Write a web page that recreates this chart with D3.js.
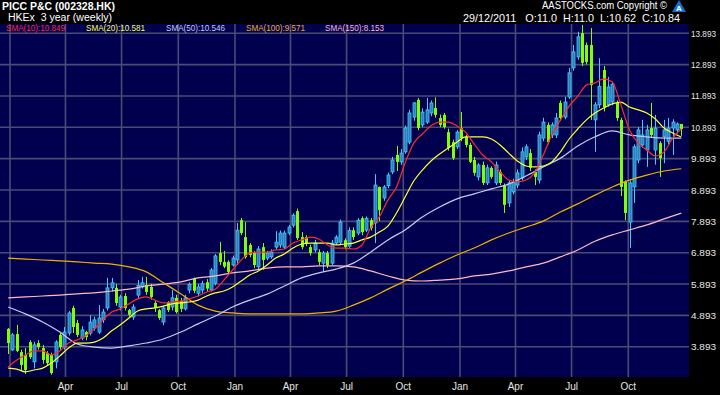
<!DOCTYPE html>
<html>
<head>
<meta charset="utf-8">
<script src="https://cdn.jsdelivr.net/npm/d3@7"></script>
<style>
  body { margin: 0; background: #000; }
  svg { display: block; font-family: "Liberation Sans", Arial, sans-serif; }
</style>
</head>
<body>
<svg id="chart"></svg>
<script>
// weekly candles, 29 Dec 2008 .. 26 Dec 2011 (Monday of each week)
const weeks = d3.timeMonday.range(new Date(2008, 11, 29), new Date(2011, 11, 27));

const opens = [4.46,3.79,4.30,3.72,3.63,4.04,3.41,4.01,3.85,3.69,3.63,3.41,4.27,3.88,4.33,5.13,4.65,4.17,4.36,4.33,
  4.49,4.36,4.75,5.13,5.77,5.77,5.16,5.51,5.06,4.84,5.54,5.80,5.86,5.80,5.29,5.06,4.68,5.29,5.16,5.45,
  5.35,5.10,5.70,6.06,5.60,5.70,5.95,5.70,5.92,6.88,6.60,6.60,6.50,6.66,7.93,7.39,7.14,6.88,6.44,7.07,
  6.72,6.76,7.07,7.14,7.07,7.52,7.77,8.22,7.39,7.39,7.07,6.98,6.91,6.56,6.88,6.56,7.20,7.23,7.29,7.10,
  7.61,7.52,7.99,7.61,7.93,7.84,8.99,8.64,9.03,9.47,10.01,9.79,10.11,10.42,11.22,11.77,10.97,11.06,11.35,11.51,
  11.19,11.29,10.74,10.42,10.27,10.87,10.58,10.33,9.85,9.31,9.69,9.12,9.60,9.12,9.47,9.05,8.48,8.83,9.05,9.28,
  9.95,10.07,9.47,9.21,10.55,10.97,10.65,10.65,11.67,11.22,11.86,12.79,13.14,13.90,13.52,13.52,11.13,11.61,12.72,11.61,
  11.70,11.67,11.13,9.15,7.87,8.99,9.85,10.33,10.17,10.87,10.17,10.39,10.59,10.45,10.87,10.81,11.0];
const highs = [4.49,4.33,4.59,3.80,3.85,4.10,4.05,4.10,3.95,3.75,3.70,4.10,4.35,4.52,5.03,5.20,4.75,4.55,4.40,4.90,
  4.85,5.22,5.10,6.09,6.09,5.90,5.55,5.60,5.10,5.25,6.02,6.12,6.12,5.90,5.35,5.10,5.20,5.35,5.70,5.55,
  5.45,5.55,5.95,6.10,5.90,6.00,6.05,6.40,6.85,7.23,6.95,6.65,6.80,7.84,8.00,7.87,7.20,6.95,7.10,7.20,
  6.95,7.00,7.58,7.60,7.60,7.78,8.15,8.30,7.55,7.45,7.15,7.30,7.00,6.95,6.95,7.30,7.45,7.95,7.35,7.70,
  7.70,8.00,8.05,8.05,8.00,9.40,9.00,9.05,9.45,9.95,10.30,10.20,10.95,11.45,11.70,11.83,11.50,11.83,11.75,11.85,
  11.30,11.35,10.85,10.50,10.80,11.38,10.65,10.40,9.95,9.75,9.80,9.70,9.65,9.80,9.55,9.10,9.20,9.25,9.55,10.25,
  10.35,10.20,9.55,10.75,11.20,11.05,11.05,11.35,11.75,11.87,12.79,13.52,13.94,14.16,13.60,14.06,11.70,13.10,12.85,12.50,
  12.35,11.75,11.20,9.20,9.20,10.35,10.90,11.13,10.97,11.67,11.29,10.45,11.13,11.19,11.15,11.05,11.0];
const lows = [3.66,3.76,3.72,3.15,3.02,3.50,3.20,3.80,3.35,3.30,3.00,3.20,3.80,3.80,4.25,4.33,4.20,4.10,4.10,4.25,
  4.40,4.30,4.65,5.05,5.65,5.20,5.05,5.05,4.85,4.75,5.45,5.75,5.55,5.40,5.00,4.75,4.58,5.00,5.05,4.95,
  5.00,5.05,5.60,5.60,5.50,5.60,5.65,5.65,5.85,6.50,6.40,6.20,6.45,6.50,7.45,6.70,6.75,6.40,6.35,6.35,
  6.65,6.70,7.00,7.05,7.00,7.45,7.70,7.30,7.00,7.10,6.80,6.90,6.50,6.28,6.40,6.50,7.15,7.15,7.00,7.05,
  7.30,7.45,7.45,7.55,7.60,7.20,7.90,8.55,8.95,9.40,9.50,9.70,10.05,10.35,11.10,10.80,10.90,11.00,11.25,11.20,
  10.90,10.85,10.15,9.85,10.20,10.45,10.25,9.75,9.35,9.20,9.05,9.05,9.25,9.05,9.05,8.16,8.35,8.75,8.95,9.20,
  9.85,9.50,9.05,9.10,10.45,10.35,10.55,10.55,11.10,11.15,11.80,12.70,13.05,12.85,12.90,11.13,10.11,11.50,11.40,11.55,
  11.60,11.10,8.70,7.93,7.04,8.48,9.75,10.25,9.63,10.55,9.70,9.31,9.75,10.35,10.01,10.70,10.62];
const closes = [4.01,4.27,3.76,3.31,3.15,3.56,3.95,3.88,3.47,3.37,3.05,4.04,3.88,4.36,4.97,4.52,4.27,4.43,4.20,4.68,
  4.75,4.81,5.00,5.77,5.93,5.29,5.48,5.13,4.91,5.16,5.85,5.93,5.64,5.48,5.13,4.81,5.13,5.06,5.45,5.00,
  5.10,5.45,5.88,5.68,5.80,5.90,5.75,6.34,6.79,6.60,6.45,6.28,6.72,7.61,7.52,6.75,6.82,6.50,7.01,6.66,
  6.88,6.91,7.23,7.52,7.52,7.71,8.09,7.36,7.07,7.20,6.88,7.20,6.60,6.88,6.50,7.20,7.39,7.87,7.07,7.60,
  7.39,7.93,7.55,7.99,7.68,9.05,8.25,8.99,9.37,9.85,9.79,10.07,10.87,11.35,11.67,10.87,11.38,11.45,11.67,11.29,
  10.97,10.90,10.24,9.91,10.74,10.55,10.33,9.79,9.44,9.69,9.12,9.60,9.31,9.69,9.12,8.42,9.12,9.15,9.44,10.11,
  10.27,9.60,9.31,10.65,11.06,10.42,10.97,11.19,11.19,11.70,12.63,13.30,13.78,12.95,12.98,12.24,11.61,12.20,11.54,12.18,
  12.27,11.19,8.99,8.16,9.12,10.27,10.81,10.65,10.81,10.65,10.87,9.91,10.81,10.87,11.06,11.00,10.84];

// moving averages: SMA10/20 every 2nd week, SMA50/100/150 every 4th week
const sma10 = [3.25,3.47,3.63,3.76,3.76,3.63,3.76,4.01,4.11,4.24,4.46,4.75,5.00,5.10,5.26,5.42,5.48,5.38,5.29,5.32,
  5.35,5.42,5.51,5.64,5.73,6.02,6.34,6.66,6.88,6.91,6.91,6.98,7.01,7.20,7.30,7.39,7.33,7.14,7.04,7.04,
  7.01,7.14,7.68,8.03,8.57,8.99,9.76,10.39,10.68,10.94,11.06,11.06,10.94,10.74,10.36,10.01,9.79,9.47,9.21,9.15,
  9.21,9.44,10.01,10.65,11.13,11.57,11.89,12.24,12.31,12.44,12.34,11.61,10.81,10.39,10.17,9.98,10.11,10.55,10.849];
const sma20 = [3.21,3.18,3.09,3.15,3.21,3.37,3.60,3.85,4.01,4.01,4.04,4.17,4.40,4.59,4.81,5.03,5.10,5.13,5.19,5.26,
  5.29,5.32,5.38,5.51,5.61,5.67,5.80,5.99,6.18,6.31,6.50,6.72,6.85,7.04,7.17,7.20,7.20,7.20,7.14,7.17,
  7.20,7.30,7.39,7.55,7.74,8.16,8.67,9.18,9.53,9.82,10.04,10.23,10.42,10.59,10.59,10.59,10.52,10.33,10.07,9.82,
  9.66,9.63,9.66,9.79,10.11,10.52,10.84,11.13,11.35,11.51,11.64,11.70,11.54,11.45,11.35,11.16,10.87,10.71,10.581];
const sma50 = [5.16,4.94,4.68,4.36,3.98,3.88,3.85,3.92,4.01,4.14,4.36,4.62,4.87,5.16,5.38,5.57,5.83,6.09,6.25,6.37,
  6.56,6.91,7.30,7.62,8.03,8.35,8.61,8.77,8.93,9.08,9.34,9.63,9.91,10.30,10.59,10.78,10.65,10.59,10.55,10.546];
const sma100 = [6.72,6.69,6.66,6.63,6.60,6.56,6.53,6.44,6.28,5.93,5.58,5.22,5.03,4.97,4.94,4.94,4.94,4.94,4.97,5.03,
  5.22,5.45,5.73,5.99,6.28,6.56,6.82,7.04,7.30,7.52,7.71,7.90,8.19,8.45,8.73,8.99,9.21,9.37,9.50,9.571];
const sma150 = [5.45,5.48,5.51,5.54,5.58,5.61,5.67,5.73,5.83,5.89,5.96,6.09,6.15,6.25,6.31,6.40,6.44,6.44,6.47,6.47,
  6.44,6.31,6.15,6.02,5.99,6.02,6.06,6.15,6.21,6.31,6.44,6.56,6.76,6.98,7.26,7.46,7.62,7.78,7.97,8.153];

const priceTicks = [3.893,4.893,5.893,6.893,7.893,8.893,9.893,10.893,11.893,12.893,13.893];
const monthNames = {0: "Jan", 3: "Apr", 6: "Jul", 9: "Oct"};

const legend = [
  { text: "SMA(10):10.849", color: "#ff2a2a", data: sma10, step: 2 },
  { text: "SMA(20):10.581", color: "#ffff33", data: sma20, step: 2 },
  { text: "SMA(50):10.546", color: "#c8c8f0", data: sma50, step: 4 },
  { text: "SMA(100):9.571", color: "#f0b000", data: sma100, step: 4 },
  { text: "SMA(150):8.153", color: "#ffb8c4", data: sma150, step: 4 }
];

const width = 720, height = 395;
const plot = { left: 0, top: 24, right: 689, bottom: 377 };

const svg = d3.select("#chart").attr("width", width).attr("height", height);
svg.append("rect").attr("width", width).attr("height", height).attr("fill", "#000");

// plot background
svg.append("rect")
  .attr("x", plot.left).attr("y", plot.top)
  .attr("width", plot.right - plot.left).attr("height", plot.bottom - plot.top)
  .attr("fill", "#00004e");

svg.append("clipPath").attr("id", "clip")
  .append("rect")
  .attr("x", plot.left).attr("y", plot.top)
  .attr("width", plot.right - plot.left).attr("height", plot.bottom - plot.top);

// scales
const xScale = d3.scaleTime()
  .domain([new Date(2009, 0, 1), new Date(2012, 0, 1)])
  .range([10, 685]);
const yScale = d3.scaleLinear()
  .domain([3.893, 13.893])
  .range([346.7, 33.3]);

const quarterTicks = d3.timeMonth.every(3).range(new Date(2009, 0, 1), new Date(2011, 11, 31));

// grid
const grid = svg.append("g").attr("clip-path", "url(#clip)");
grid.selectAll(".hgrid").data(priceTicks).enter().append("line")
  .attr("x1", plot.left).attr("x2", plot.right)
  .attr("y1", d => yScale(d)).attr("y2", d => yScale(d))
  .attr("stroke", "#4a4a74").attr("stroke-width", 1.6);
grid.selectAll(".vgrid").data(quarterTicks).enter().append("line")
  .attr("x1", d => xScale(d)).attr("x2", d => xScale(d))
  .attr("y1", plot.top).attr("y2", plot.bottom)
  .attr("stroke", "#4a4a74").attr("stroke-width", 1.6);

// right axis labels
svg.selectAll(".ylab").data(priceTicks).enter().append("text")
  .attr("x", 691).attr("y", d => yScale(d) + 3.5)
  .attr("fill", "#e6e6e6").attr("font-size", 9.5)
  .attr("textLength", 25).attr("lengthAdjust", "spacingAndGlyphs")
  .text(d => d.toFixed(3));

// bottom axis labels
svg.selectAll(".xlab").data(quarterTicks.filter(d => xScale(d) > 30)).enter().append("text")
  .attr("x", d => xScale(d)).attr("y", 390)
  .attr("text-anchor", "middle")
  .attr("fill", "#e6e6e6").attr("font-size", 10)
  .text(d => monthNames[d.getMonth()]);

const chart = svg.append("g").attr("clip-path", "url(#clip)");

// candles
const candles = weeks.map((d, i) => ({ date: d, o: opens[i], h: highs[i], l: lows[i], c: closes[i] }));
const up = d => d.c >= d.o;

chart.selectAll(".wick").data(candles).enter().append("line")
  .attr("x1", d => Math.round(xScale(d.date)) + 0.5).attr("x2", d => Math.round(xScale(d.date)) + 0.5)
  .attr("y1", d => yScale(d.h)).attr("y2", d => yScale(d.l))
  .attr("stroke", d => up(d) ? "#48c8ff" : "#80ff00").attr("stroke-width", 1);

chart.selectAll(".body").data(candles).enter().append("rect")
  .attr("x", d => Math.round(xScale(d.date)) - 1)
  .attr("y", d => yScale(Math.max(d.o, d.c)))
  .attr("width", 3)
  .attr("height", d => Math.max(1, Math.abs(yScale(d.o) - yScale(d.c))))
  .attr("fill", d => up(d) ? "#2f7fb8" : "#80ff00")
  .attr("stroke", d => up(d) ? "#48c8ff" : "none")
  .attr("stroke-width", 0.8);

// moving averages
legend.slice().reverse().forEach(s => {
  const line = d3.line()
    .x((v, k) => xScale(weeks[Math.min(k * s.step, weeks.length - 1)]))
    .y(v => yScale(v))
    .curve(d3.curveMonotoneX);
  chart.append("path")
    .datum(s.data)
    .attr("fill", "none")
    .attr("stroke", s.color)
    .attr("stroke-width", 1.2)
    .attr("d", line);
});

// legend row
const legendX = [6, 86, 166, 246, 325];
svg.selectAll(".leg").data(legend).enter().append("text")
  .attr("x", (d, i) => legendX[i]).attr("y", 30.5)
  .attr("fill", d => d.color).attr("font-size", 9)
  .attr("textLength", 59).attr("lengthAdjust", "spacingAndGlyphs")
  .text(d => d.text);

// header
svg.append("text").attr("x", 2).attr("y", 10)
  .attr("fill", "#fff").attr("font-size", 11).attr("font-weight", "bold")
  .attr("textLength", 113).attr("lengthAdjust", "spacingAndGlyphs")
  .text("PICC P&C (002328.HK)");
svg.append("text").attr("x", 8).attr("y", 20.5)
  .attr("fill", "#fff").attr("font-size", 10)
  .attr("textLength", 104).attr("lengthAdjust", "spacingAndGlyphs")
  .style("white-space", "pre")
  .text("HKEx  3 year (weekly)");
svg.append("text").attr("x", 542).attr("y", 9)
  .attr("fill", "#fff").attr("font-size", 10)
  .attr("textLength", 125).attr("lengthAdjust", "spacingAndGlyphs")
  .text("AASTOCKS.com Copyright ©");
svg.append("text").attr("x", 463).attr("y", 22)
  .attr("fill", "#fff").attr("font-size", 11)
  .attr("textLength", 217).attr("lengthAdjust", "spacingAndGlyphs")
  .style("white-space", "pre")
  .text("29/12/2011   O:11.0  H:11.0  L:10.62  C:10.84");

// logo
const logo = svg.append("g").attr("transform", "translate(672,0)");
logo.append("path").attr("d", "M7,0 L14,12 L0,12 Z").attr("fill", "#1a6fd0");
logo.append("text").attr("x", 7).attr("y", 11).attr("text-anchor", "middle")
  .attr("fill", "#fff").attr("font-size", 8).attr("font-weight", "bold").text("A");
</script>
</body>
</html>
